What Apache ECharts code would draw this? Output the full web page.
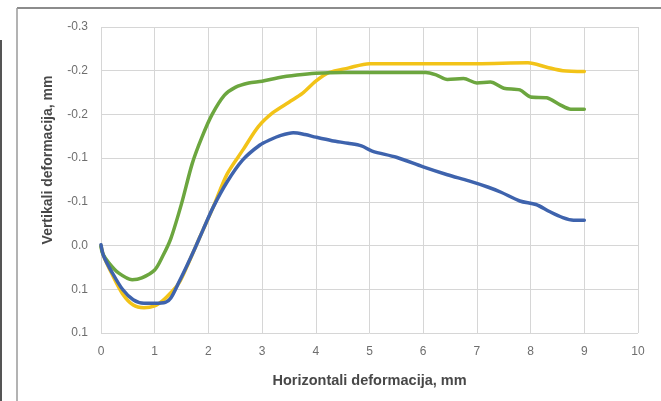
<!DOCTYPE html>
<html>
<head>
<meta charset="utf-8">
<script src="https://cdn.jsdelivr.net/npm/echarts@6/dist/echarts.min.js"></script>
<style>
  html, body { margin: 0; padding: 0; background: #ffffff; }
  #chart { width: 661px; height: 401px; }
</style>
</head>
<body>
<div id="chart"></div>
<script>
// Horizontal deformation (mm) vs vertical deformation (mm), three test curves
const xTicks = [0, 1, 2, 3, 4, 5, 6, 7, 8, 9, 10];
// y tick labels as shown on the chart (one decimal, top to bottom)
const yTickLabels = ['-0.3', '-0.2', '-0.2', '-0.1', '-0.1', '0.0', '0.1', '0.1'];

const blueCurve = [
  [0, -0.001], [0.05, 0.012], [0.2, 0.03], [0.4, 0.05], [0.6, 0.062], [0.8, 0.066],
  [1.0, 0.066], [1.2, 0.065], [1.3, 0.06], [1.45, 0.042], [1.6, 0.023], [1.75, 0.003],
  [1.9, -0.018], [2.09, -0.044], [2.35, -0.073], [2.64, -0.098], [2.96, -0.115],
  [3.15, -0.121], [3.35, -0.126], [3.58, -0.129], [3.8, -0.127], [4.0, -0.124],
  [4.3, -0.12], [4.6, -0.117], [4.85, -0.114], [5.05, -0.108], [5.5, -0.101],
  [6.0, -0.09], [6.45, -0.081], [6.85, -0.074], [7.2, -0.067], [7.45, -0.061],
  [7.8, -0.051], [8.1, -0.047], [8.35, -0.039], [8.6, -0.032], [8.8, -0.029], [9.0, -0.029]
];

const yellowCurve = [
  [0, 0.0], [0.05, 0.012], [0.2, 0.032], [0.4, 0.055], [0.6, 0.068], [0.8, 0.071],
  [1.0, 0.069], [1.15, 0.063], [1.3, 0.054], [1.45, 0.043], [1.6, 0.024], [1.75, 0.003],
  [1.9, -0.018], [2.09, -0.044], [2.35, -0.082], [2.65, -0.11], [2.93, -0.136],
  [3.2, -0.152], [3.5, -0.164], [3.75, -0.174], [4.0, -0.188], [4.25, -0.198],
  [4.6, -0.203], [5.0, -0.208], [6.0, -0.208], [7.0, -0.208], [7.95, -0.209],
  [8.3, -0.204], [8.6, -0.2], [9.0, -0.199]
];

const greenCurve = [
  [0, 0.001], [0.03, 0.009], [0.15, 0.02], [0.32, 0.031], [0.58, 0.039], [0.76, 0.037],
  [1.0, 0.028], [1.15, 0.012], [1.3, -0.008], [1.5, -0.048], [1.7, -0.094],
  [1.88, -0.124], [2.07, -0.15], [2.3, -0.172], [2.5, -0.181], [2.75, -0.186],
  [3.0, -0.188], [3.3, -0.192], [3.65, -0.195], [4.0, -0.197], [4.5, -0.198],
  [6.05, -0.198], [6.25, -0.195], [6.45, -0.19], [6.75, -0.191], [7.0, -0.186],
  [7.25, -0.187], [7.5, -0.18], [7.8, -0.178], [8.0, -0.17], [8.3, -0.169],
  [8.55, -0.161], [8.75, -0.156], [9.0, -0.156]
];

const Y_MIN = -0.25, Y_MAX = 0.1, Y_STEP = 0.05;
const TICK_FONT = '"Liberation Sans", "DejaVu Sans", sans-serif';
const TITLE_FONT = '"Liberation Sans", "DejaVu Sans", sans-serif';
const GRID_COLOR = '#d6d6d6';

const chart = echarts.init(document.getElementById('chart'), null, { renderer: 'canvas' });

function lineSeries(name, data, color) {
  return {
    name: name,
    type: 'line',
    data: data,
    showSymbol: false,
    smooth: 0.3,
    lineStyle: { color: color, width: 3.5, cap: 'round', join: 'round' },
    itemStyle: { color: color },
    animation: false
  };
}

chart.setOption({
  backgroundColor: '#ffffff',
  animation: false,
  grid: { left: 101, right: 23, top: 27, bottom: 68, containLabel: false },
  xAxis: {
    type: 'value',
    min: xTicks[0],
    max: xTicks[xTicks.length - 1],
    interval: 1,
    name: 'Horizontali deformacija, mm',
    nameLocation: 'middle',
    nameGap: 40,
    nameTextStyle: { fontFamily: TITLE_FONT, fontSize: 14.5, fontWeight: 'bold', color: '#484848' },
    axisLine: { show: false },
    axisTick: { show: false },
    axisLabel: { fontFamily: TICK_FONT, fontSize: 12, color: '#6e6e6e', margin: 13 },
    splitLine: { show: true, lineStyle: { color: GRID_COLOR, width: 1 } }
  },
  yAxis: {
    type: 'value',
    inverse: true,
    min: Y_MIN,
    max: Y_MAX,
    interval: Y_STEP,
    axisLine: { show: false },
    axisTick: { show: false },
    axisLabel: {
      fontFamily: TICK_FONT, fontSize: 12, color: '#6e6e6e', margin: 13,
      formatter: function (v) {
        const i = Math.round((v - Y_MIN) / Y_STEP);
        return yTickLabels[i] !== undefined ? yTickLabels[i] : '';
      }
    },
    splitLine: { show: true, lineStyle: { color: GRID_COLOR, width: 1 } }
  },
  graphic: [
    // outer chart frame
    { type: 'line', shape: { x1: 17, y1: 8, x2: 661, y2: 8 }, style: { stroke: '#8c8c8c', lineWidth: 2 }, silent: true },
    { type: 'line', shape: { x1: 17, y1: 8, x2: 17, y2: 401 }, style: { stroke: '#9a9a9a', lineWidth: 1.5 }, silent: true },
    { type: 'line', shape: { x1: 1, y1: 40, x2: 1, y2: 401 }, style: { stroke: '#555555', lineWidth: 2 }, silent: true },
    // vertical axis title
    {
      type: 'text',
      x: 48, y: 160,
      rotation: Math.PI / 2,
      style: {
        text: 'Vertikali deformacija, mm',
        fontFamily: TITLE_FONT, fontSize: 14, fontWeight: 'bold', fill: '#484848',
        align: 'center', verticalAlign: 'middle'
      },
      silent: true
    }
  ],
  series: [
    lineSeries('Yellow', yellowCurve, '#f2c318'),
    lineSeries('Green', greenCurve, '#6ca63f'),
    lineSeries('Blue', blueCurve, '#3e63ad')
  ]
});
</script>
</body>
</html>
